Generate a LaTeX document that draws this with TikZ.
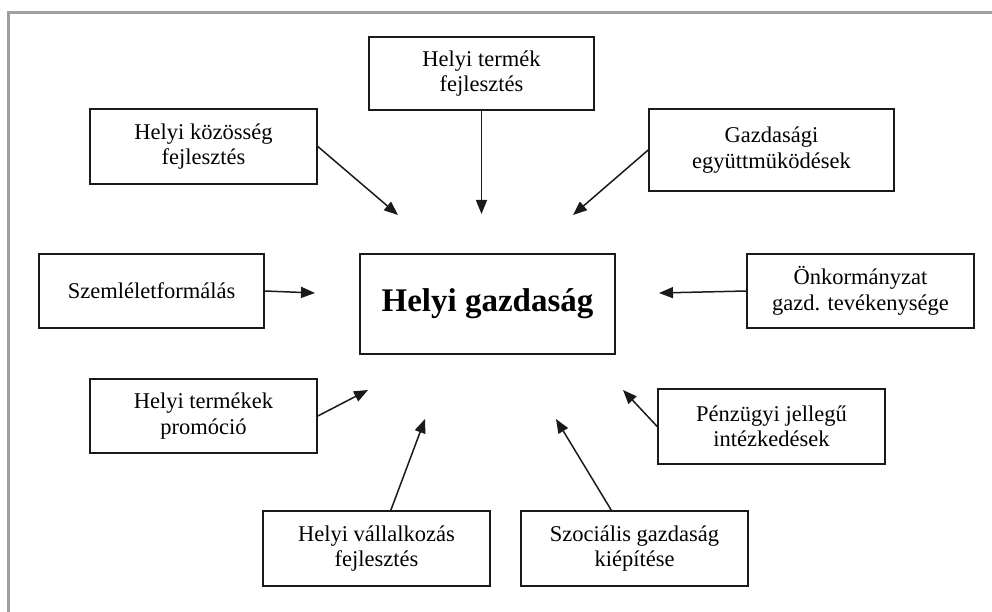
\documentclass[tikz,border=0pt]{standalone}
\usepackage{fontspec}
\setmainfont{Liberation Serif}
\usepackage{tikz}
\usetikzlibrary{arrows.meta}
\definecolor{hgink}{HTML}{1A1A1A}
\definecolor{hgframe}{HTML}{A0A0A0}
\tikzset{
  bx/.style={draw=hgink, line width=1.6pt, align=center, inner sep=0pt,
    font=\fontsize{22.5}{25.5}\selectfont, minimum width=227pt, minimum height=75pt},
  core/.style={bx, minimum width=255pt, minimum height=100pt,
    font=\fontsize{33}{38}\selectfont\bfseries},
  arr/.style={-{Triangle[length=14pt, width=11pt]}, line width=1.5pt, color=hgink},
}
\begin{document}
\begin{tikzpicture}[x=1pt, y=-1pt]
    \useasboundingbox (0,0) rectangle (992,612);
    % frame
    \draw[hgframe, line width=3pt] (8,612) -- (8,13) -- (992,13);
    % centre
    \node[core] (hg) at (487.5,304) {Helyi gazdaság};
    % boxes round it
    \node[bx, minimum width=225pt, minimum height=73pt] (ter) at (481.5,73.5) {Helyi termék\\fejlesztés};
    \node[bx] (koz) at (203.5,146.5) {Helyi közösség\\fejlesztés};
    \node[bx, minimum width=245pt, minimum height=82pt] (gaz) at (771.5,150) {Gazdasági\\együttmüködések};
    \node[bx, minimum width=225pt, minimum height=74pt] (sze) at (151.5,291) {Szemléletformálás};
    \node[bx, minimum height=74pt] (onk) at (860.5,291) {Önkormányzat\\gazd. tevékenysége};
    \node[bx, minimum height=74pt] (pro) at (203.5,416) {Helyi termékek\\promóció};
    \node[bx] (pen) at (771.5,426.5) {Pénzügyi jellegű\\intézkedések};
    \node[bx] (val) at (376.5,548.5) {Helyi vállalkozás\\fejlesztés};
    \node[bx] (szo) at (634.5,548.5) {Szociális gazdaság\\kiépítése};
    % arrow ends
    \coordinate (tter) at (481.5,214);
    \coordinate (tkoz) at (398,215);
    \coordinate (tgaz) at (573,215);
    \coordinate (tsze) at (315,293);
    \coordinate (tonk) at (659,293);
    \coordinate (tpro) at (368,390);
    \coordinate (tpen) at (623,390);
    \coordinate (tval) at (425,419);
    \coordinate (tszo) at (556,419);
    \foreach \a/\b in {ter.south/tter,koz.east/tkoz,gaz.west/tgaz,sze.east/tsze,onk.west/tonk,pro.east/tpro,pen.west/tpen,val/tval,szo/tszo} \draw[arr] (\a) -- (\b);
\end{tikzpicture}
\end{document}
